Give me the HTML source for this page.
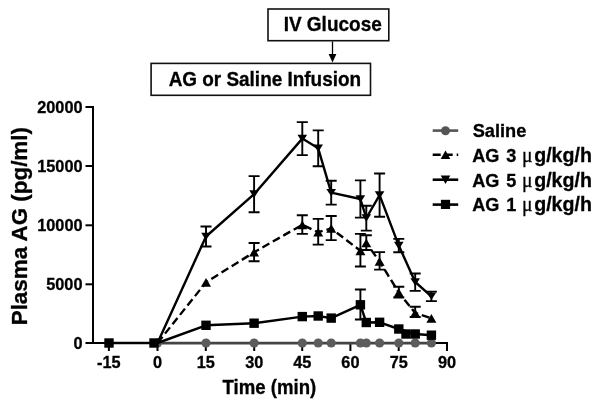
<!DOCTYPE html>
<html><head><meta charset="utf-8"><style>
html,body{margin:0;padding:0;background:#fff;}
body{width:600px;height:404px;overflow:hidden;}
svg{display:block;filter:grayscale(1);}
text{-webkit-font-smoothing:antialiased;}
</style></head><body>
<svg width="600" height="404" viewBox="0 0 600 404">
<rect width="600" height="404" fill="#fff"/>
<g fill="none" stroke="#111" stroke-width="1.6">
<rect x="268" y="9" width="120.8" height="31.7"/>
<rect x="151.1" y="63.4" width="219.4" height="31.9"/>
</g>
<path d="M332.5,41.5V55" stroke="#000" stroke-width="1.3"/>
<path d="M328.6,54.1h7.8L332.5,62.6z" fill="#000"/>
<g font-family="'Liberation Sans', sans-serif" font-weight="bold" fill="#000" stroke="#000" stroke-width="0.3">
<text transform="translate(283.6289,31) scale(1,1.05)" font-size="19">IV Glucose</text>
<text transform="translate(168.628145,85.7) scale(1,1.05)" font-size="18.95">AG or Saline Infusion</text>
<text transform="translate(82.5,113.0) scale(1,1.06)" font-size="16.3" text-anchor="end">20000</text>
<text transform="translate(82.5,172.0) scale(1,1.06)" font-size="16.3" text-anchor="end">15000</text>
<text transform="translate(82.5,231.3) scale(1,1.06)" font-size="16.3" text-anchor="end">10000</text>
<text transform="translate(82.5,290.3) scale(1,1.06)" font-size="16.3" text-anchor="end">5000</text>
<text transform="translate(82.5,349.0) scale(1,1.06)" font-size="16.3" text-anchor="end">0</text>
<text transform="translate(108.8,368.2) scale(1,1.06)" font-size="16.3" text-anchor="middle">-15</text>
<text transform="translate(157.5,368.2) scale(1,1.06)" font-size="16.3" text-anchor="middle">0</text>
<text transform="translate(205.8,368.2) scale(1,1.06)" font-size="16.3" text-anchor="middle">15</text>
<text transform="translate(254.2,368.2) scale(1,1.06)" font-size="16.3" text-anchor="middle">30</text>
<text transform="translate(302.2,368.2) scale(1,1.06)" font-size="16.3" text-anchor="middle">45</text>
<text transform="translate(350.4,368.2) scale(1,1.06)" font-size="16.3" text-anchor="middle">60</text>
<text transform="translate(398.7,368.2) scale(1,1.06)" font-size="16.3" text-anchor="middle">75</text>
<text transform="translate(447,368.2) scale(1,1.06)" font-size="16.3" text-anchor="middle">90</text>
<text transform="translate(222.6,394) scale(1,1.05)" font-size="18.6">Time (min)</text>
<text transform="translate(26.7,325.3) rotate(-90)" font-size="22.4">Plasma AG (pg/ml)</text>
<text transform="translate(472.67584,136.8) scale(1,1.05)" font-size="18.2">Saline</text>
<text transform="translate(472.15,162.1) scale(1,1.05)" font-size="18.1">AG</text>
<text transform="translate(506.2,162.1) scale(1,1.05)" font-size="18.1">3</text>
<text transform="translate(522.1,162.1) scale(1,1.05)" font-size="19.6" font-weight="normal" font-family="'Liberation Serif', serif">μ</text>
<text transform="translate(534.2,162.1) scale(1,1.05)" font-size="19.6">g/kg/h</text>
<text transform="translate(472.15,186.7) scale(1,1.05)" font-size="18.1">AG</text>
<text transform="translate(506.2,186.7) scale(1,1.05)" font-size="18.1">5</text>
<text transform="translate(522.1,186.7) scale(1,1.05)" font-size="19.6" font-weight="normal" font-family="'Liberation Serif', serif">μ</text>
<text transform="translate(534.2,186.7) scale(1,1.05)" font-size="19.6">g/kg/h</text>
<text transform="translate(472.15,211.3) scale(1,1.05)" font-size="18.1">AG</text>
<text transform="translate(506.2,211.3) scale(1,1.05)" font-size="18.1">1</text>
<text transform="translate(522.1,211.3) scale(1,1.05)" font-size="19.6" font-weight="normal" font-family="'Liberation Serif', serif">μ</text>
<text transform="translate(534.2,211.3) scale(1,1.05)" font-size="19.6">g/kg/h</text>
</g>
<g stroke="#000" stroke-width="2" fill="none">
<path d="M93,106V343"/>
<path d="M85.5,343H447V351"/>
<path d="M85.5,107H93"/>
<path d="M85.5,166H93"/>
<path d="M85.5,225.3H93"/>
<path d="M85.5,284.3H93"/>
<path d="M108.9,343V351"/>
<path d="M157.5,343V351"/>
<path d="M205.8,343V351"/>
<path d="M254.2,343V351"/>
<path d="M302.2,343V351"/>
<path d="M350.4,343V351"/>
<path d="M398.7,343V351"/>
</g>
<path d="M157.5,343.2H431.4" stroke="#444" stroke-width="2.7" fill="none"/>
<g fill="#5c5c5c">
<circle cx="157.5" cy="343" r="4.6"/>
<circle cx="206" cy="343" r="4.6"/>
<circle cx="254.1" cy="343" r="4.6"/>
<circle cx="302.3" cy="343" r="4.6"/>
<circle cx="318.2" cy="343" r="4.6"/>
<circle cx="331.2" cy="343" r="4.6"/>
<circle cx="360.4" cy="343" r="4.6"/>
<circle cx="366.3" cy="343" r="4.6"/>
<circle cx="379.6" cy="343" r="4.6"/>
<circle cx="398.8" cy="343" r="4.6"/>
<circle cx="415.2" cy="343" r="4.6"/>
<circle cx="431.4" cy="343" r="4.6"/>
</g>
<g stroke="#000" fill="none" stroke-width="2.4" stroke-linejoin="round">
<polyline points="109,343 157.5,343 206,325.3 254.1,323.2 302.3,316.6 318.2,316 331.2,318.1 360.4,304.8 366.3,322.5 379.6,322.3 398.8,329 415.2,334 431.4,335.2"/>
<polyline points="157.5,343 206,236.5 254.1,194.1 302.3,138.6 318.2,148.3 331.2,192.7 360.4,199 366.3,218 379.6,195.1 398.8,245.6 415.2,282 431.4,296.3"/>
<polyline points="157.5,343 206,282.3 254.1,252.2 302.3,224.8 318.2,232.2 331.2,228.4 360.4,250.8 366.3,243 379.6,261.5 398.8,292.6 415.2,313 431.4,318.3" stroke-dasharray="8,4"/>
</g>
<g stroke="#000" fill="none" stroke-width="1.9">
<path d="M206,226.5V246.5M200.5,226.5h11M200.5,246.5h11"/>
<path d="M254.1,176.1V212.2M248.6,176.1h11M248.6,212.2h11"/>
<path d="M302.3,122.1V155.1M296.8,122.1h11M296.8,155.1h11"/>
<path d="M318.2,130.4V166.3M312.7,130.4h11M312.7,166.3h11"/>
<path d="M331.2,180.8V204.6M325.7,180.8h11M325.7,204.6h11"/>
<path d="M360.4,180.4V217.6M354.9,180.4h11M354.9,217.6h11"/>
<path d="M366.3,205.8V230.6M360.8,205.8h11M360.8,230.6h11"/>
<path d="M379.6,173.5V216.7M374.1,173.5h11M374.1,216.7h11"/>
<path d="M398.8,238.9V252.3M393.3,238.9h11M393.3,252.3h11"/>
<path d="M415.2,273.5V290.9M409.7,273.5h11M409.7,290.9h11"/>
<path d="M431.4,291.6V301.1M425.9,291.6h11M425.9,301.1h11"/>
<path d="M254.1,243V261.3M248.6,243h11M248.6,261.3h11"/>
<path d="M302.3,215.2V233.9M296.8,215.2h11M296.8,233.9h11"/>
<path d="M318.2,218.9V244.6M312.7,218.9h11M312.7,244.6h11"/>
<path d="M331.2,216V240.1M325.7,216h11M325.7,240.1h11"/>
<path d="M360.4,233.9V266.5M354.9,233.9h11M354.9,266.5h11"/>
<path d="M366.3,235.3V250M360.8,235.3h11M360.8,250h11"/>
<path d="M379.6,252.1V269.6M374.1,252.1h11M374.1,269.6h11"/>
<path d="M398.8,286.8V297.5M393.3,286.8h11M393.3,297.5h11"/>
<path d="M415.2,306.8V317M409.7,306.8h11M409.7,317h11"/>
<path d="M360.4,289.5V319.5M354.9,289.5h11M354.9,319.5h11"/>
</g>
<g fill="#000">
<rect x="104.3" y="338.3" width="9.4" height="9.4"/>
<rect x="149.3" y="338.3" width="9.4" height="9.4"/>
<rect x="201.3" y="320.6" width="9.4" height="9.4"/>
<rect x="249.4" y="318.5" width="9.4" height="9.4"/>
<rect x="297.6" y="311.90000000000003" width="9.4" height="9.4"/>
<rect x="313.5" y="311.3" width="9.4" height="9.4"/>
<rect x="326.5" y="313.40000000000003" width="9.4" height="9.4"/>
<rect x="355.7" y="300.1" width="9.4" height="9.4"/>
<rect x="361.6" y="317.8" width="9.4" height="9.4"/>
<rect x="374.90000000000003" y="317.6" width="9.4" height="9.4"/>
<rect x="394.1" y="324.3" width="9.4" height="9.4"/>
<rect x="410.5" y="329.3" width="9.4" height="9.4"/>
<rect x="426.7" y="330.5" width="9.4" height="9.4"/>
<rect x="401.3" y="329.3" width="9.4" height="9.4"/>
<path d="M201.0,286.65000000000003h10L206,277.95z"/>
<path d="M249.1,256.55h10L254.1,247.85z"/>
<path d="M297.3,229.15h10L302.3,220.45000000000002z"/>
<path d="M313.2,236.54999999999998h10L318.2,227.85z"/>
<path d="M326.2,232.75h10L331.2,224.05z"/>
<path d="M355.4,255.15h10L360.4,246.45000000000002z"/>
<path d="M361.3,247.35h10L366.3,238.65z"/>
<path d="M374.6,265.85h10L379.6,257.15z"/>
<path d="M393.8,296.95000000000005h10L398.8,288.25z"/>
<path d="M410.2,317.35h10L415.2,308.65z"/>
<path d="M426.4,322.65000000000003h10L431.4,313.95z"/>
<path d="M201.2,232.7h9.6L206,240.3z"/>
<path d="M249.29999999999998,190.29999999999998h9.6L254.1,197.9z"/>
<path d="M297.5,134.79999999999998h9.6L302.3,142.4z"/>
<path d="M313.4,144.5h9.6L318.2,152.10000000000002z"/>
<path d="M326.4,188.89999999999998h9.6L331.2,196.5z"/>
<path d="M355.59999999999997,195.2h9.6L360.4,202.8z"/>
<path d="M361.5,214.2h9.6L366.3,221.8z"/>
<path d="M374.8,191.29999999999998h9.6L379.6,198.9z"/>
<path d="M394.0,241.79999999999998h9.6L398.8,249.4z"/>
<path d="M410.4,278.2h9.6L415.2,285.8z"/>
<path d="M426.59999999999997,292.5h9.6L431.4,300.1z"/>
</g>
<g stroke-width="2.6" fill="none">
<path d="M432.7,130.6H458.2" stroke="#555"/>
<path d="M432.7,154.7H458.2" stroke="#000" stroke-dasharray="8,4"/>
<path d="M432.7,179.7H458.2" stroke="#000"/>
<path d="M432.7,204.6H458.2" stroke="#000"/>
</g>
<circle cx="445.5" cy="130.7" r="4.5" fill="#555"/>
<g fill="#000">
<path d="M440.7,159h9.6L445.5,150.4z"/>
<path d="M440.7,175.4h9.6L445.5,184z"/>
<rect x="440.9" y="199.8" width="9.2" height="9.2"/>
</g>
</svg>
</body></html>
